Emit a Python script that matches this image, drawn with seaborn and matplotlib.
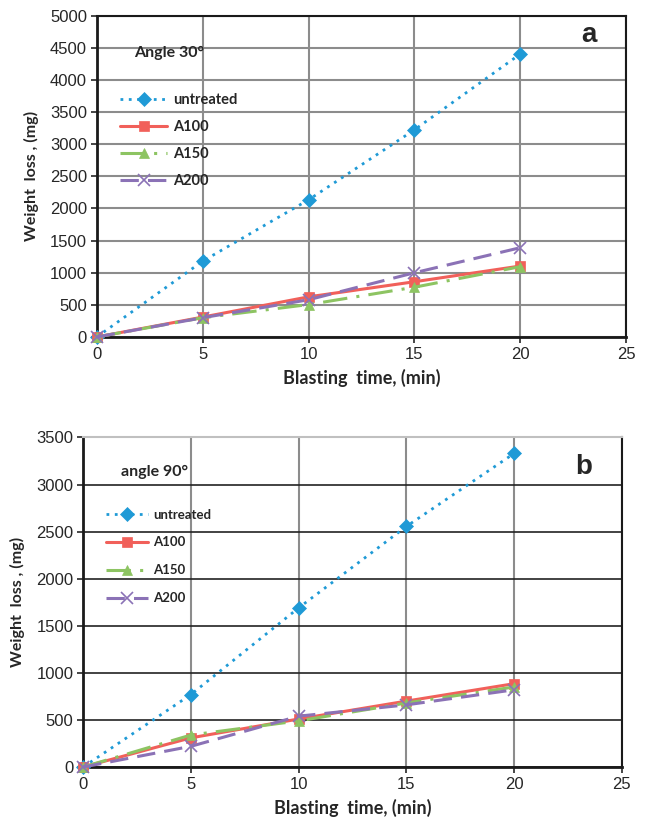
"""Weight loss vs blasting time at 30 and 90 degree impingement angles."""

import matplotlib
matplotlib.use("Agg")
import matplotlib.pyplot as plt
import pandas as pd
import seaborn as sns

time_min = [0, 5, 10, 15, 20]
series_names = ["untreated", "A100", "A150", "A200"]

# angle 30
loss_30_untreated = [0, 1180, 2135, 3225, 4405]
loss_30_a100 = [0, 310, 625, 860, 1105]
loss_30_a150 = [0, 300, 505, 775, 1095]
loss_30_a200 = [0, 300, 580, 1000, 1390]

# angle 90
loss_90_untreated = [0, 770, 1690, 2555, 3330]
loss_90_a100 = [0, 310, 510, 700, 885]
loss_90_a150 = [0, 340, 490, 680, 850]
loss_90_a200 = [0, 220, 540, 660, 820]

colors = {"untreated": "#1f9ad6", "A100": "#f1605a", "A150": "#8dc462", "A200": "#8b72b6"}
linestyles = {"untreated": (0, (1, 2)), "A100": "-", "A150": (0, (8, 3, 1, 3)), "A200": (0, (6, 3))}
markers = {"untreated": "D", "A100": "s", "A150": "^", "A200": "x"}

sns.set_theme(style="white")
plt.rcParams["font.family"] = ["Liberation Sans", "DejaVu Sans"]

fig = plt.figure(figsize=(6.45, 8.26), dpi=100)
ax_a = fig.add_axes([0.150, 0.592, 0.821, 0.389])
ax_b = fig.add_axes([0.129, 0.0714, 0.835, 0.399])


def draw_panel(ax, values, ymax, title, title_y, letter, letter_y, legend_y, spacing, leg_size):
    df = pd.DataFrame({
        "time": time_min * 4,
        "loss": sum(values, []),
        "series": [n for n in series_names for _ in time_min],
    })
    for name in series_names:
        sub = df[df["series"] == name]
        ms = 7 if name != "A200" else 8
        sns.lineplot(data=sub, x="time", y="loss", ax=ax, color=colors[name],
                     linestyle=linestyles[name], marker=markers[name],
                     markersize=ms, markeredgecolor=colors[name],
                     markeredgewidth=1.2 if name == "A200" else 0.5,
                     linewidth=2.2 if name != "untreated" else 2.0,
                     label=name, clip_on=False, zorder=3)
    ax.set_xlim(0, 25)
    ax.set_ylim(0, ymax)
    ax.set_xticks(range(0, 26, 5))
    ax.set_yticks(range(0, ymax + 1, 500))
    ax.grid(True, color="#8c8c8c", linewidth=1.5)
    ax.set_axisbelow(True)
    for side in ["left", "bottom"]:
        ax.spines[side].set_linewidth(2.0)
        ax.spines[side].set_color("#1a1a1a")
    for side in ["right", "top"]:
        ax.spines[side].set_linewidth(1.5)
        ax.spines[side].set_color("#1a1a1a")
    ax.tick_params(axis="both", labelsize=12, length=4, width=1.2,
                   direction="out", bottom=True, left=True, pad=3)
    ax.set_xlabel("Blasting  time, (min)", fontsize=13, fontweight="bold",
                  family=["Lato", "DejaVu Sans"], labelpad=5)
    ax.set_ylabel("Weight  loss , (mg)", fontsize=11.5, fontweight="bold",
                  family=["Lato", "DejaVu Sans"], labelpad=8)
    ax.text(0.07, title_y, title, transform=ax.transAxes, fontsize=11.5,
            fontweight="bold", family=["Lato", "DejaVu Sans"], va="center")
    ax.text(0.93, letter_y, letter, transform=ax.transAxes, fontsize=20,
            fontweight="bold", ha="center", va="center")
    ax.legend(loc="upper left", bbox_to_anchor=(0.02, legend_y), frameon=False,
              handlelength=3.2, labelspacing=spacing, handletextpad=0.4,
              prop={"family": ["Lato", "DejaVu Sans"], "weight": "bold", "size": leg_size})


draw_panel(ax_a, [loss_30_untreated, loss_30_a100, loss_30_a150, loss_30_a200],
           5000, "Angle 30°", 0.885, "a", 0.94, 0.80, 0.9, 10.5)
draw_panel(ax_b, [loss_90_untreated, loss_90_a100, loss_90_a150, loss_90_a200],
           3500, "angle 90°", 0.895, "b", 0.91, 0.82, 1.2, 9.5)
ax_b.spines["top"].set_color("#c0c0c0")
for line in ax_b.get_ygridlines():
    line.set_color("#222222")
    line.set_linewidth(1.2)

fig.savefig("out.png", dpi=100)
